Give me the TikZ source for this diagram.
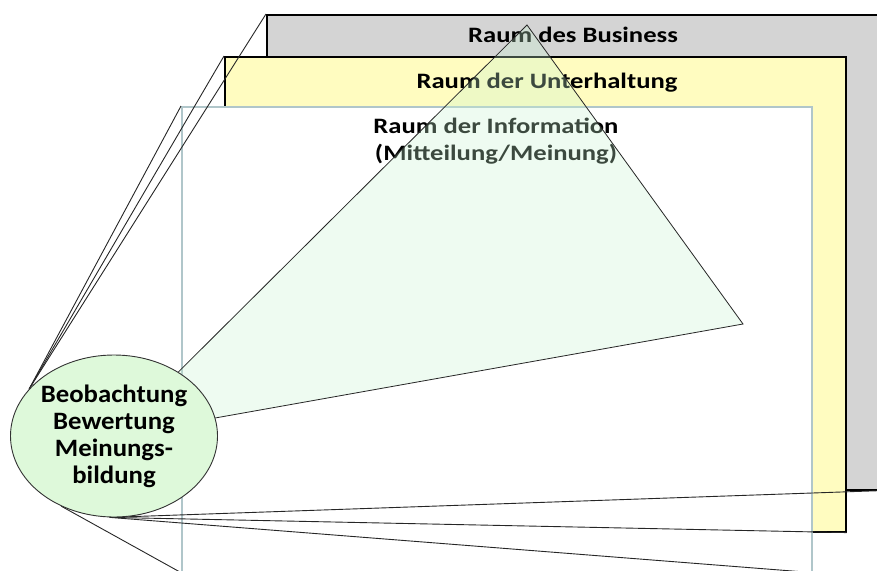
\documentclass[tikz,border=0pt]{standalone}
\usepackage{fontspec}
\setmainfont{Carlito}
\newfontfamily\planefont{Carlito}[FakeStretch=1.21]
\newfontfamily\eyefont{Carlito}[FakeStretch=1.07]
\usetikzlibrary{shapes.geometric}
\definecolor{bizgray}{RGB}{212,212,212}
\definecolor{funyellow}{RGB}{255,252,192}
\definecolor{infoedge}{RGB}{176,198,202}
\definecolor{trigreen}{RGB}{200,245,210}
\definecolor{eyegreen}{RGB}{222,249,218}
\pgfdeclarelayer{planes}
\pgfdeclarelayer{rays}
\pgfsetlayers{planes,rays,main}
\begin{document}
\begin{tikzpicture}[x=1pt,y=-1pt,
  plane/.style={rectangle,anchor=north west,inner sep=0pt,line width=1.6pt},
  ray/.style={line width=0.9pt,draw=black!85},
  title/.style={font=\planefont\bfseries\fontsize{22}{27}\selectfont,align=center,inner sep=0pt},
  eyebox/.style={ellipse,draw=black!80,line width=0.9pt,fill=eyegreen,
    minimum width=204pt,minimum height=162pt,inner sep=0pt,align=center,
    font=\eyefont\bfseries\fontsize{25}{27}\selectfont},
  viewcone/.style={draw=black!85,line width=0.8pt,fill=trigreen,fill opacity=0.3}]
\useasboundingbox (0,0) rectangle (877,570);
\clip (0,0) rectangle (877,570);

% the three planes, back to front
\begin{pgfonlayer}{planes}
  \node[plane,draw=black,fill=bizgray,minimum width=614pt,minimum height=475pt] (biz) at (266,14) {};
  \node[plane,draw=black,fill=funyellow,minimum width=621pt,minimum height=475pt] (fun) at (224,56) {};
  \node[plane,draw=infoedge,fill=white,minimum width=630pt,minimum height=465pt] (info) at (181,106) {};
  \node[title] (tbiz) at (573,35) {Raum des Business};
  \node[title] (tfun) at (547,83) {Raum der Unterhaltung};
  \node[title] (tinfo) at (496,141.5) {Raum der Information\\(Mitteilung/Meinung)};
\end{pgfonlayer}

% the observer
\node[eyebox] (eye) at (114,436) {Beobachtung\\Bewertung\\Meinungs-\\bildung};

\coordinate (apex) at (527,25);
\coordinate (tip) at (743,324);

\begin{pgfonlayer}{rays}
  % rays to the upper left corners
  \draw[ray] (eye.151) -- (biz.north west);
  \draw[ray] (eye.151) -- (fun.north west);
  \draw[ray] (eye.151) -- (info.north west);
  % rays to the lower corners
  \draw[ray] (eye.267) -- (biz.south east);
  \draw[ray] (eye.267) -- (fun.south east);
  \draw[ray] (eye.267) -- (info.south east);
  \draw[ray] (eye.233) -- (info.south west);
  % field of view
  \filldraw[viewcone] (eye.center) -- (apex) -- (tip) -- cycle;
\end{pgfonlayer}
\end{tikzpicture}
\end{document}
